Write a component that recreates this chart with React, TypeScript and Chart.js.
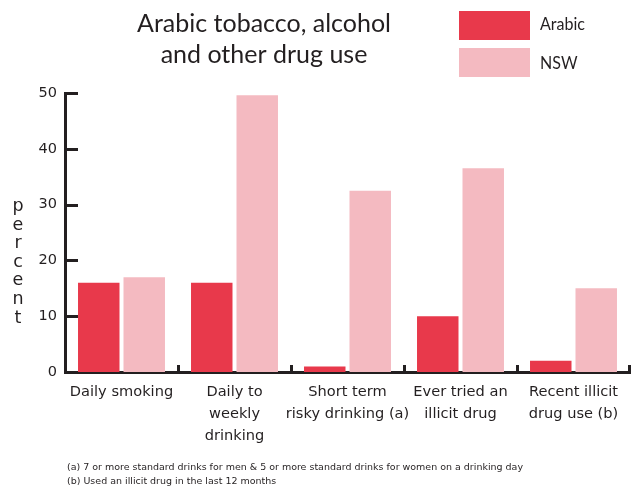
import React, { useEffect, useRef } from "react";
import { Chart, registerables } from "chart.js";

Chart.register(...registerables);

const categories: string[][] = [
  ["Daily smoking"],
  ["Daily to", "weekly", "drinking"],
  ["Short term", "risky drinking (a)"],
  ["Ever tried an", "illicit drug"],
  ["Recent illicit", "drug use (b)"],
];
const seriesNames = ["Arabic", "NSW"];
const arabicValues = [16, 16, 1, 10, 2];
const nswValues = [17, 49.6, 32.5, 36.5, 15];
const yTicks = [0, 10, 20, 30, 40, 50];
const titleLines = ["Arabic tobacco, alcohol", "and other drug use"];
const yAxisTitle = "percent";
const footnotes = [
  "(a) 7 or more standard drinks for men & 5 or more standard drinks for women on a drinking day",
  "(b) Used an illicit drug in the last 12 months",
];

const INK = "#231F20";
const ARABIC_COLOR = "#E8394B";
const NSW_COLOR = "#F4BAC1";
const colors = [ARABIC_COLOR, NSW_COLOR];

const decorPlugin = {
  id: "decor",
  afterDraw(chart: any) {
    const { ctx, chartArea, scales } = chart;
    const ys = scales.y;
    ctx.save();

    // inward y ticks
    ctx.strokeStyle = INK;
    ctx.lineWidth = 3;
    ctx.lineCap = "butt";
    yTicks.forEach((v) => {
      if (v === 0) return;
      const py = Math.round(ys.getPixelForValue(v)) + 0.5;
      ctx.beginPath();
      ctx.moveTo(chartArea.left, py);
      ctx.lineTo(chartArea.left + 13, py);
      ctx.stroke();
    });

    // x ticks at category boundaries, pointing up
    const n = categories.length;
    const w = (chartArea.right - chartArea.left) / n;
    for (let i = 1; i <= n; i++) {
      let px = Math.round(chartArea.left + i * w) + 0.5;
      if (i === n) px -= 1;
      ctx.beginPath();
      ctx.moveTo(px, chartArea.bottom);
      ctx.lineTo(px, chartArea.bottom - 7);
      ctx.stroke();
    }

    // title
    ctx.fillStyle = INK;
    ctx.textBaseline = "alphabetic";
    ctx.textAlign = "center";
    ctx.font = "25px Lato";
    const t0 = ctx.measureText(titleLines[0]).width;
    const r = Math.min(1, 258 / t0);
    const titleBaselines = [32, 63];
    titleLines.forEach((line, i) => {
      const mw = ctx.measureText(line).width * r;
      ctx.fillText(line, 264, titleBaselines[i], mw);
    });

    // legend
    const boxY = [11, 48];
    const textY = [30, 69];
    ctx.font = "17px Lato";
    const lr = Math.min(1, 45 / ctx.measureText(seriesNames[0]).width);
    ctx.textAlign = "left";
    seriesNames.forEach((name, i) => {
      ctx.fillStyle = colors[i];
      ctx.fillRect(459, boxY[i], 71, 29);
      ctx.fillStyle = INK;
      ctx.fillText(name, 540, textY[i], ctx.measureText(name).width * lr);
    });

    // y axis title, stacked letters
    ctx.font = "17.5px 'DejaVu Sans'";
    ctx.textAlign = "center";
    ctx.fillStyle = INK;
    yAxisTitle.split("").forEach((ch, i) => {
      ctx.fillText(ch, 18, 211 + i * 18.6);
    });

    // footnotes
    ctx.font = "9.5px 'DejaVu Sans'";
    ctx.textAlign = "left";
    const fr = Math.min(1, 456 / ctx.measureText(footnotes[0]).width);
    const footY = [470, 484];
    footnotes.forEach((line, i) => {
      ctx.fillText(line, 67, footY[i], ctx.measureText(line).width * fr);
    });

    ctx.restore();
  },
};

export default function App() {
  const canvasRef = useRef<HTMLCanvasElement | null>(null);

  useEffect(() => {
    const canvas = canvasRef.current;
    if (!canvas) return;
    const chart = new Chart(canvas, {
      type: "bar",
      data: {
        labels: categories as any,
        datasets: [
          {
            label: seriesNames[0],
            data: arabicValues,
            backgroundColor: ARABIC_COLOR,
            borderWidth: 0,
            categoryPercentage: 0.805,
            barPercentage: 0.912,
          },
          {
            label: seriesNames[1],
            data: nswValues,
            backgroundColor: NSW_COLOR,
            borderWidth: 0,
            categoryPercentage: 0.805,
            barPercentage: 0.912,
          },
        ],
      },
      options: {
        responsive: false,
        maintainAspectRatio: false,
        animation: false,
        devicePixelRatio: 1,
        layout: { padding: { top: 93, right: 2, left: 0, bottom: 0 } },
        plugins: {
          legend: { display: false },
          title: { display: false },
          tooltip: { enabled: false },
        },
        scales: {
          x: {
            grid: { display: false, drawTicks: false },
            border: { display: true, color: INK, width: 3 },
            ticks: {
              color: INK,
              font: { family: "'DejaVu Sans'", size: 14.6, lineHeight: 1.507 },
              padding: 9,
              maxRotation: 0,
              minRotation: 0,
              autoSkip: false,
            },
            afterFit: (s: any) => {
              s.height = 118;
            },
          },
          y: {
            min: 0,
            max: 50,
            grid: { display: false, drawTicks: false },
            border: { display: true, color: INK, width: 3 },
            ticks: {
              stepSize: 10,
              color: INK,
              font: { family: "'DejaVu Sans'", size: 14.5 },
              padding: 8,
            },
            afterFit: (s: any) => {
              s.width = 65;
            },
          },
        },
      },
      plugins: [decorPlugin],
    });
    return () => chart.destroy();
  }, []);

  return (
    <div style={{ position: "absolute", left: 0, top: 0, width: 632, height: 490 }}>
      <canvas ref={canvasRef} width={632} height={490} style={{ display: "block", width: 632, height: 490 }} />
    </div>
  );
}
